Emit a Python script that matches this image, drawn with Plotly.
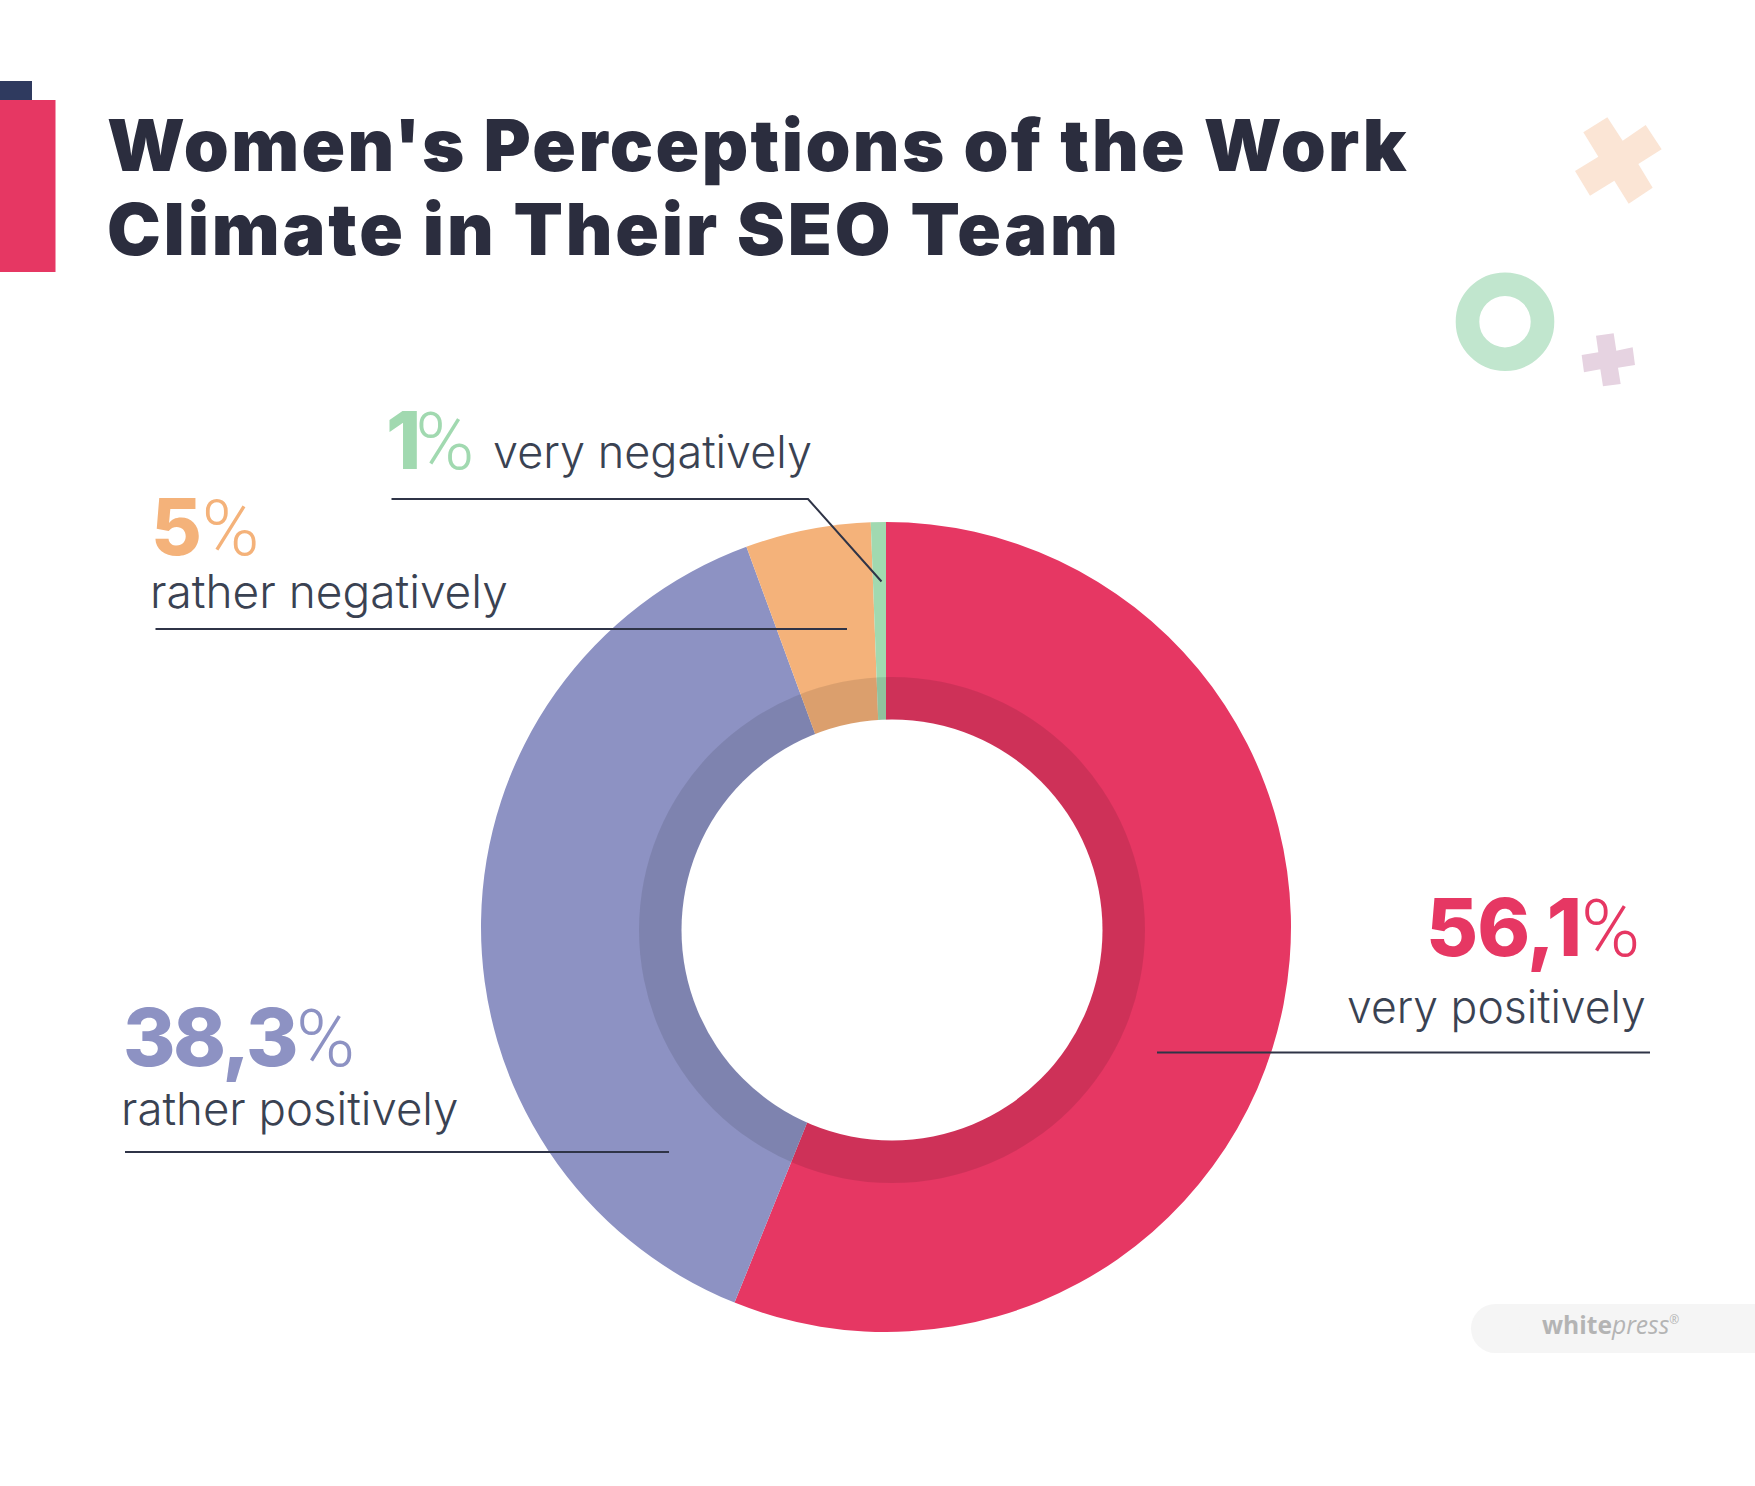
import plotly.graph_objects as go

WIDTH = 1755
HEIGHT = 1486

# Data
categories = ["very positively", "rather positively", "rather negatively", "very negatively"]
slice_values = [56.1, 38.3, 5.0, 0.6]  # the "1%" sliver is drawn narrower than its label
value_labels = ["56,1", "38,3", "5", "1"]
slice_colors = ["#E63763", "#8D92C3", "#F4B27A", "#A1D9B0"]
title_lines = ["Women's Perceptions of the Work", "Climate in Their SEO Team"]

TEXT_FONT = "Inter"
DARK = "#2B2D3E"
LABEL_COLOR = "#3A4252"
LINE_COLOR = "#2F3447"


def px(x):
    return x / WIDTH


def py(y):
    return 1 - y / HEIGHT


def rect(x0, y0, x1, y1, color):
    return dict(type="rect", xref="paper", yref="paper", x0=px(x0), x1=px(x1), y0=py(y0), y1=py(y1),
                fillcolor=color, line_width=0)


def circle(cx, cy, r, fill, line_color=None, line_width=0):
    return dict(type="circle", xref="paper", yref="paper",
                x0=px(cx - r), x1=px(cx + r), y0=py(cy - r), y1=py(cy + r),
                fillcolor=fill, line=dict(color=line_color, width=line_width))


def polyline(points, color=LINE_COLOR, width=2, closed=False, fill=None):
    d = "M " + " L ".join(f"{px(x):.5f},{py(y):.5f}" for x, y in points)
    if closed:
        d += " Z"
    shape = dict(type="path", xref="paper", yref="paper", path=d, line=dict(color=color, width=width))
    if fill:
        shape["fillcolor"] = fill
    return shape


def zoom_pts(pts):
    # decoration outlines, measured in the 3x crop of the top right corner
    return [(1380 + x / 3, 90 + y / 3) for x, y in pts]


def text(x, baseline, s, size, color, anchor="left", weight=400, family=TEXT_FONT):
    fig.add_annotation(
        xref="paper", yref="paper", x=px(x), y=py(baseline - 0.35 * size),
        text=s, showarrow=False, xanchor=anchor, yanchor="middle", borderpad=0, borderwidth=0,
        font=dict(family=family, size=size, color=color, weight=weight),
    )


def big_value(label, spacing=-2.5):
    # heavy number, thin and narrow percent sign
    return (f'<span style="font-weight:800;letter-spacing:{spacing}px">{label}</span>'
            '<span style="font-family:Roboto;font-weight:300">%</span>')


def spaced(s, spacing):
    return f'<span style="letter-spacing:{spacing}px">{s}</span>'


fig = go.Figure()

# Donut: the white hole and the darker band are separate circles, off centre in the original
R = 405
CX, CY = 886, 927
fig.add_trace(go.Pie(
    labels=categories,
    values=slice_values,
    sort=False,
    direction="clockwise",
    rotation=0,
    textinfo="none",
    hoverinfo="label+percent",
    marker=dict(colors=slice_colors, line=dict(width=0)),
    domain=dict(x=[px(CX - R), px(CX + R)], y=[py(CY + R), py(CY - R)]),
    showlegend=False,
))

shapes = [
    # corner blocks
    rect(0, 81, 32, 100, "#2F3A5F"),
    rect(0, 100, 55.5, 272, "#E63763"),
    # band and hole
    circle(892, 930, 253, "rgba(0,0,0,0.1)"),
    circle(892, 930, 210.5, "white"),
    # decorations
    polyline(zoom_pts([(682, 82), (728, 152), (797, 105), (845, 178), (775, 222), (818, 293),
                       (746, 341), (703, 272), (630, 317), (585, 243), (655, 200), (610, 127)]),
             color="#FBE5D5", width=0, closed=True, fill="#FBE5D5"),
    polyline(zoom_pts([(648, 737), (701, 730), (709, 782), (758, 772), (765, 825), (714, 833),
                       (722, 882), (669, 889), (661, 838), (612, 847), (605, 795), (655, 787)]),
             color="#E6D3E1", width=0, closed=True, fill="#E6D3E1"),
    circle(1505, 321.7, 37.5, "rgba(0,0,0,0)", "#C1E6CE", 23.6),
    # logo badge
    rect(1495.5, 1304, 1755, 1353, "#F5F5F5"),
    circle(1495.5, 1328.5, 24.5, "#F5F5F5"),
    # leader lines
    polyline([(1157, 1052.5), (1650, 1052.5)]),
    polyline([(125, 1152), (669, 1152)]),
    polyline([(155.5, 629), (847, 629)]),
    polyline([(391.5, 499), (808, 499), (881.5, 581.5)]),
]

fig.update_layout(
    width=WIDTH,
    height=HEIGHT,
    margin=dict(l=0, r=0, t=0, b=0),
    paper_bgcolor="white",
    plot_bgcolor="white",
    shapes=shapes,
    showlegend=False,
)

# Title
text(107, 170, spaced(title_lines[0], 2.4), 72, DARK, weight=900)
text(107, 253.5, spaced(title_lines[1], 2.8), 72, DARK, weight=900)

# Value labels and category labels
text(1426, 955, big_value(value_labels[0], -1), 80, slice_colors[0], weight=300)
text(1646, 1023, categories[0], 44.5, LABEL_COLOR, anchor="right", weight=300)

text(123, 1065, big_value(value_labels[1]), 80, slice_colors[1], weight=300)
text(120.5, 1124, categories[1], 45.6, LABEL_COLOR, weight=300)

text(150.5, 554, big_value(value_labels[2], 0), 78, slice_colors[2], weight=300)
text(149.5, 607, categories[2], 46, LABEL_COLOR, weight=300)

text(386, 468, big_value(value_labels[3], -6), 80, slice_colors[3], weight=300)
text(493, 467, categories[3], 45, LABEL_COLOR, weight=300)

# Logo text
text(1542, 1333, '<b>white</b><i>press</i><sup><span style="font-size:12px">®</span></sup>', 24.6,
     "#B4B4B4", family="Open Sans")

fig.write_html("out.html", config=dict(displayModeBar=False), post_script="document.body.style.margin='0';")
